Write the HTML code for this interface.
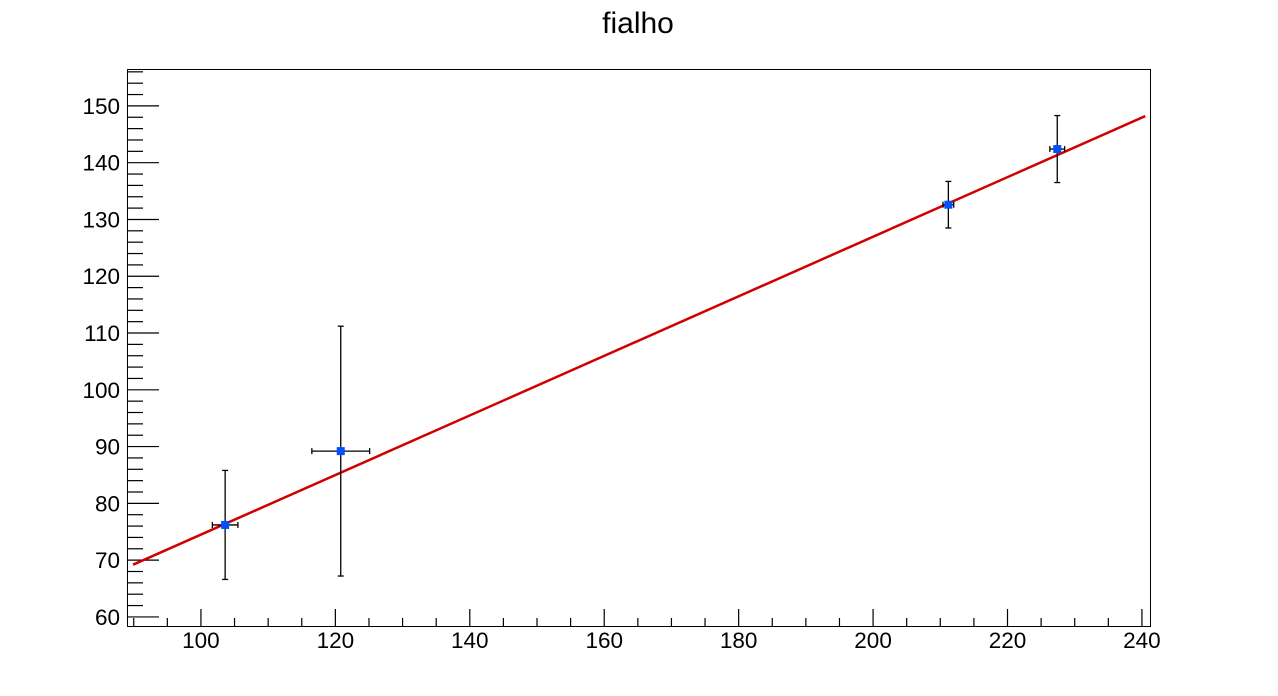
<!DOCTYPE html>
<html><head><meta charset="utf-8"><style>
html,body{margin:0;padding:0;background:#fff;}
svg{display:block;font-family:"Liberation Sans",Arial,sans-serif;}
</style></head><body>
<svg id="chart" width="1278" height="696" viewBox="0 0 1278 696" xmlns="http://www.w3.org/2000/svg">
<rect width="1278" height="696" fill="#fff"/>
<text x="638" y="33" font-size="30" text-anchor="middle">fialho</text>
<g id="ticks"></g>
<g id="fit"></g>
<g id="points"></g>
<rect x="127.5" y="69.5" width="1023" height="557" fill="none" stroke="#000" stroke-width="1"/>
</svg>
<script>
const xVals=[103.6,120.8,211.2,227.4];
const yVals=[76.2,89.2,132.6,142.4];
const xErrs=[1.9,4.3,0.8,1.1];
const yErrs=[9.6,22.0,4.1,5.9];
const fitSlope=0.5246;
const fitIntercept=22.04;
const fitRange=[89.9,240.5];
const xTicks=[100,120,140,160,180,200,220,240];
const yTicks=[60,70,80,90,100,110,120,130,140,150];

const X0=127,X1=1150,Y0=626,Y1=69;
const xmin=89.0,xmax=241.2,ymin=58.4,ymax=156.5;
function sx(v){return X0+(v-xmin)/(xmax-xmin)*(X1-X0);}
function sy(v){return Y0-(v-ymin)/(ymax-ymin)*(Y0-Y1);}
const NS='http://www.w3.org/2000/svg';
function mk(tag,attrs,parent){const e=document.createElementNS(NS,tag);for(const k in attrs)e.setAttribute(k,attrs[k]);parent.appendChild(e);return e;}
const tg=document.getElementById('ticks');
for(let v=90;v<=241;v+=5){
  const major=v%20===0;
  const l=mk('line',{x1:sx(v),x2:sx(v),y1:Y0,y2:Y0-(major?17:8),stroke:'#000','stroke-width':1.2},tg);
  
  
}
xTicks.forEach(v=>{
  const t=mk('text',{x:sx(v),y:648,'font-size':22.5,'text-anchor':'middle'},tg);
  t.textContent=v;
  
  
});
for(let v=60;v<=156;v+=2){
  const major=v%10===0;
  const l=mk('line',{x1:X0,x2:X0+(major?32:16),y1:sy(v),y2:sy(v),stroke:'#000','stroke-width':1.2},tg);
  
  
}
yTicks.forEach(v=>{
  const t=mk('text',{x:120,y:sy(v)+8,'font-size':22.5,'text-anchor':'end'},tg);
  t.textContent=v;
  
  
});
const fg=document.getElementById('fit');
const fl=mk('line',{x1:sx(fitRange[0]),y1:sy(fitSlope*fitRange[0]+fitIntercept),x2:sx(fitRange[1]),y2:sy(fitSlope*fitRange[1]+fitIntercept),stroke:'#d00000','stroke-width':2.5},fg);


const pg=document.getElementById('points');
xVals.forEach((x,i)=>{
  const y=yVals[i],cx=sx(x),cy=sy(y);
  const g=mk('g',{},pg);
  
  
  const xa=sx(x-xErrs[i]),xb=sx(x+xErrs[i]),ya=sy(y+yErrs[i]),yb=sy(y-yErrs[i]);
  const st={stroke:'#000','stroke-width':1.3};
  mk('line',Object.assign({x1:xa,x2:xb,y1:cy,y2:cy},st),g);
  mk('line',Object.assign({x1:cx,x2:cx,y1:ya,y2:yb},st),g);
  mk('line',Object.assign({x1:xa,x2:xa,y1:cy-3,y2:cy+3},st),g);
  mk('line',Object.assign({x1:xb,x2:xb,y1:cy-3,y2:cy+3},st),g);
  mk('line',Object.assign({x1:cx-3,x2:cx+3,y1:ya,y2:ya},st),g);
  mk('line',Object.assign({x1:cx-3,x2:cx+3,y1:yb,y2:yb},st),g);
  mk('rect',{x:cx-4,y:cy-4,width:8,height:8,fill:'#0050ff'},g);
});
</script>
</body></html>
